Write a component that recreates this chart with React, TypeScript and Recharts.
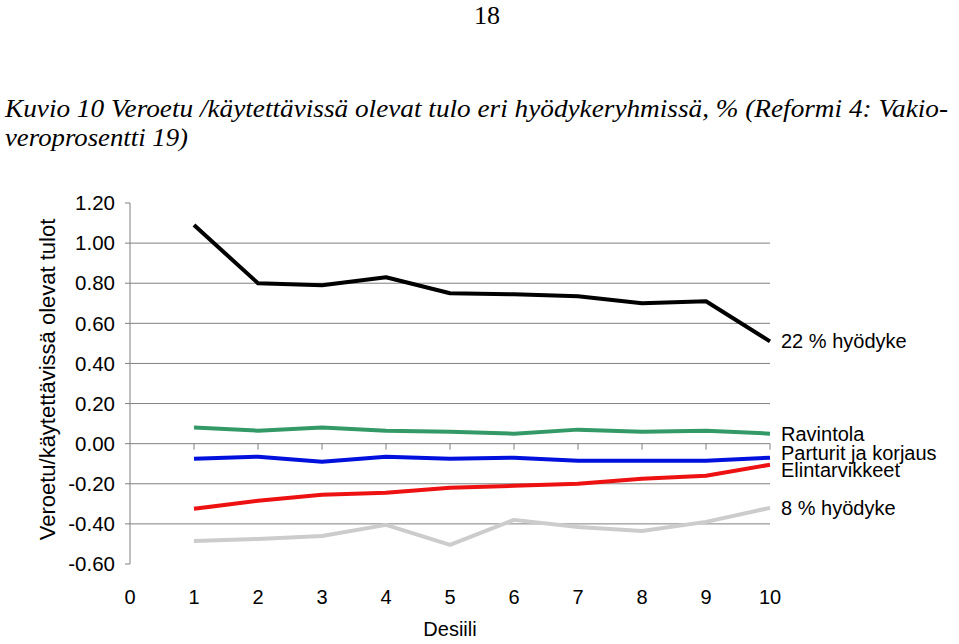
import React from "react";
import { LineChart, Line, XAxis, YAxis, ReferenceLine, LabelList } from "recharts";

const deciles = [1, 2, 3, 4, 5, 6, 7, 8, 9, 10];
const vat22 = [1.09, 0.8, 0.79, 0.83, 0.75, 0.745, 0.735, 0.7, 0.71, 0.51];
const ravintola = [0.08, 0.065, 0.08, 0.065, 0.06, 0.05, 0.07, 0.06, 0.065, 0.05];
const parturit = [-0.075, -0.065, -0.09, -0.065, -0.075, -0.07, -0.085, -0.085, -0.085, -0.07];
const elintarvikkeet = [-0.325, -0.285, -0.255, -0.245, -0.22, -0.21, -0.2, -0.175, -0.16, -0.105];
const vat8 = [-0.485, -0.475, -0.46, -0.405, -0.505, -0.38, -0.415, -0.435, -0.39, -0.32];

const seriesNames = ["22 % hyödyke", "Ravintola", "Parturit ja korjaus", "Elintarvikkeet", "8 % hyödyke"];
const yTicks = [-0.6, -0.4, -0.2, 0, 0.2, 0.4, 0.6, 0.8, 1.0, 1.2];
const gridValues = [-0.4, -0.2, 0, 0.2, 0.4, 0.6, 0.8, 1.0];
const xTicks = [0, 1, 2, 3, 4, 5, 6, 7, 8, 9, 10];

const data = deciles.map((d, i) => ({
  x: d,
  s0: vat22[i],
  s1: ravintola[i],
  s2: parturit[i],
  s3: elintarvikkeet[i],
  s4: vat8[i],
}));

const seriesStyle = [
  { key: "s0", color: "#000000", dy: 0 },
  { key: "s1", color: "#339966", dy: 0 },
  { key: "s2", color: "#0011dd", dy: -5 },
  { key: "s3", color: "#ee1111", dy: 5 },
  { key: "s4", color: "#cccccc", dy: 0 },
];

const FONT = '"Liberation Sans", Arial, sans-serif';

const makeLabel = (name: string, dy: number) => (props: any) => {
  const { x, y, index } = props;
  if (index !== deciles.length - 1) return null;
  return (
    <text x={x + 11} y={y + dy} dy="0.35em" fontFamily={FONT} fontSize={20} fill="#000">
      {name}
    </text>
  );
};

export default function App() {
  return (
    <div style={{ position: "absolute", left: 0, top: 0, width: 959, height: 644, background: "#fff" }}>
      <svg width={959} height={160} style={{ position: "absolute", left: 0, top: 0 }}>
        <text x={487} y={24} textAnchor="middle" fontFamily='"Liberation Serif", "Times New Roman", serif' fontSize={26} fill="#000">
          18
        </text>
        <text
          x={5}
          y={117}
          fontFamily='"Liberation Serif", "Times New Roman", serif'
          fontStyle="italic"
          fontSize={26}
          fill="#000"
          textLength={943}
          lengthAdjust="spacingAndGlyphs"
        >
          Kuvio 10 Veroetu /käytettävissä olevat tulo eri hyödykeryhmissä, % (Reformi 4: Vakio-
        </text>
        <text
          x={5}
          y={146}
          fontFamily='"Liberation Serif", "Times New Roman", serif'
          fontStyle="italic"
          fontSize={26}
          fill="#000"
          textLength={183}
          lengthAdjust="spacingAndGlyphs"
        >
          veroprosentti 19)
        </text>
      </svg>
      <div style={{ position: "absolute", left: 0, top: 0 }}>
        <LineChart width={959} height={644} data={data} margin={{ top: 203, right: 189, bottom: 30, left: 60 }}>
          <XAxis
            dataKey="x"
            type="number"
            domain={[0, 10]}
            ticks={xTicks}
            axisLine={false}
            tickLine={false}
            tickSize={0}
            tickMargin={26}
            height={50}
            interval={0}
            tick={{ fontFamily: FONT, fontSize: 20, fill: "#000" }}
            label={{ value: "Desiili", position: "insideBottom", offset: -22, fontFamily: FONT, fontSize: 20, fill: "#000" }}
          />
          <YAxis
            type="number"
            domain={[-0.6, 1.2]}
            ticks={yTicks}
            interval={0}
            width={70}
            axisLine={{ stroke: "#808080", strokeWidth: 1 }}
            tickLine={{ stroke: "#808080", strokeWidth: 1 }}
            tickSize={5}
            tickMargin={10}
            tickFormatter={(v: number) => (Math.abs(v) < 1e-9 ? "0.00" : v.toFixed(2))}
            tick={{ fontFamily: FONT, fontSize: 20.5, fill: "#000" }}
            label={{
              value: "Veroetu/käytettävissä olevat tulot",
              angle: -90,
              position: "insideLeft",
              offset: -13,
              dy: -4,
              fontFamily: FONT,
              fontSize: 22,
              fill: "#000",
              style: { textAnchor: "middle" },
            }}
          />
          {gridValues.map((v) => (
            <ReferenceLine key={"g" + v} y={v} stroke="#808080" strokeWidth={1} ifOverflow="extendDomain" />
          ))}
          {deciles.map((d) => (
            <ReferenceLine
              key={"t" + d}
              segment={[
                { x: d, y: 0 },
                { x: d, y: -0.03 },
              ]}
              stroke="#808080"
              strokeWidth={1}
            />
          ))}
          {seriesStyle.map((s, i) => (
            <Line
              key={s.key}
              dataKey={s.key}
              stroke={s.color}
              strokeWidth={4}
              dot={false}
              activeDot={false}
              isAnimationActive={false}
              strokeLinejoin="round"
            >
              <LabelList dataKey={s.key} content={makeLabel(seriesNames[i], s.dy)} />
            </Line>
          ))}
        </LineChart>
      </div>
    </div>
  );
}
